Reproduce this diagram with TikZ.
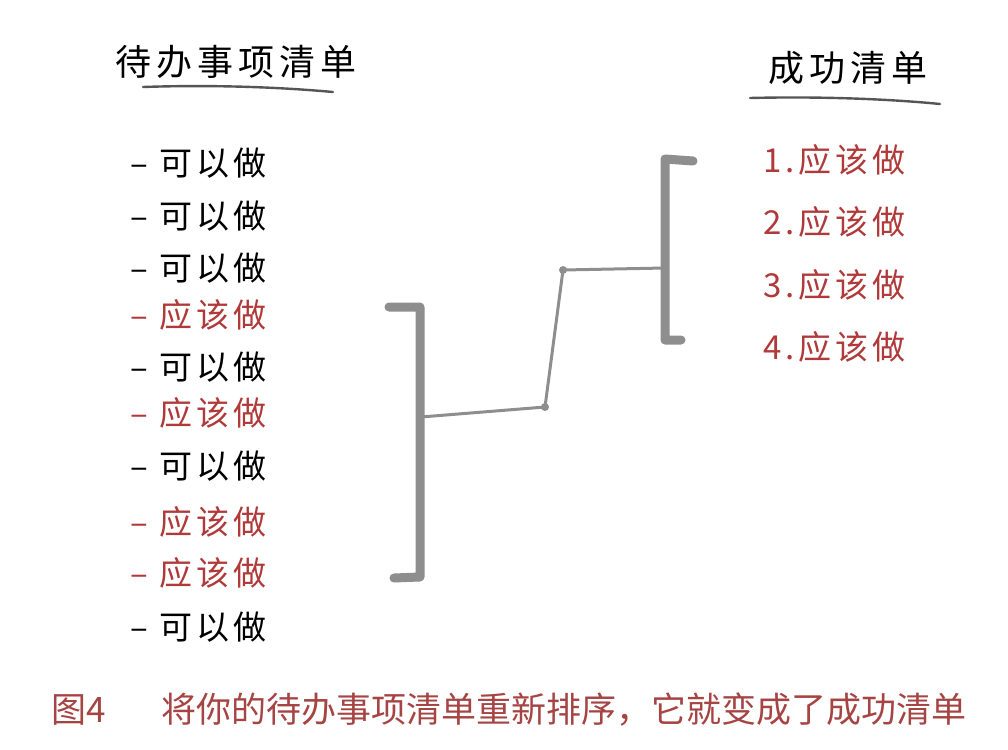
\documentclass[tikz,border=0pt]{standalone}
\usepackage{fontspec}
\setmainfont{Noto Sans CJK SC}
\usetikzlibrary{positioning}
\definecolor{inkred}{HTML}{B03A3A}
\definecolor{capred}{HTML}{A64444}
\definecolor{pencil}{HTML}{8E8E8E}
\definecolor{inkgray}{HTML}{555555}
\tikzset{
  listtitle/.style={font=\fontsize{18pt}{18pt}\selectfont\addfontfeature{LetterSpace=14}, inner sep=0pt},
  item/.style={font=\fontsize{16.5pt}{16.5pt}\selectfont\addfontfeature{LetterSpace=12}, anchor=west, inner sep=0pt},
  must/.style={item, text=inkred},
  underline/.style={draw=inkgray, line width=1.2pt, line cap=round},
  bracket/.style={draw=pencil, line width=4.5pt, line cap=round, line join=round},
  link/.style={draw=pencil, line width=1.5pt, line cap=round},
  knot/.style={fill=pencil},
}
\begin{document}
\begin{tikzpicture}[x=0.5pt, y=-0.5pt]
    \useasboundingbox (0,0) rectangle (1008,750);

    % Titles
    \node[listtitle] (todotitle) at (236,62) {待办事项清单};
    \draw[underline] (143,87) .. controls (230,84) and (300,89) .. (333,92);
    \node[listtitle] (donetitle) at (848,68) {成功清单};
    \draw[underline] (750,98) .. controls (830,96) and (900,100) .. (940,104);

    % To-do list
    \foreach \y/\txt/\sty [count=\i] in {163/可以做/item, 216/可以做/item, 268/可以做/item,
        315/应该做/must, 367/可以做/item, 413/应该做/must, 466/可以做/item,
        522/应该做/must, 573/应该做/must, 627/可以做/item}
        \node[\sty] (todo\i) at (130,\y) {–\hspace{0.35em}\txt};

    % Success list
    \foreach \y [count=\i] in {160,222,285,347}
        \node[must] (done\i) at (763,\y) {\i.\hspace{0.1em}应该做};

    % Left bracket
    \coordinate (ltop) at (420,307);
    \coordinate (lbot) at (420,577);
    \coordinate (lmid) at (421,417);
    \draw[bracket] (389,307) -- (ltop) -- (lbot) -- (394,578);

    % Right bracket
    \coordinate (rtop) at (665,159);
    \coordinate (rbot) at (665,340);
    \coordinate (rmid) at (665,268);
    \draw[bracket] (693,161) -- (rtop) -- (rbot) -- (681,340);

    % Step line
    \coordinate (stepa) at (545,407);
    \coordinate (stepb) at (563,270);
    \draw[link] (lmid) -- (stepa) -- (stepb) -- (rmid);
    \fill[knot] (stepa) circle (4);
    \fill[knot] (stepb) circle (4);

    % Caption
    \node[font=\fontsize{17.5pt}{17.5pt}\selectfont, text=capred, inner sep=0pt] (caption) at (509,710)
        {图4\hspace{1.6em}将你的待办事项清单重新排序，它就变成了成功清单};
\end{tikzpicture}
\end{document}
